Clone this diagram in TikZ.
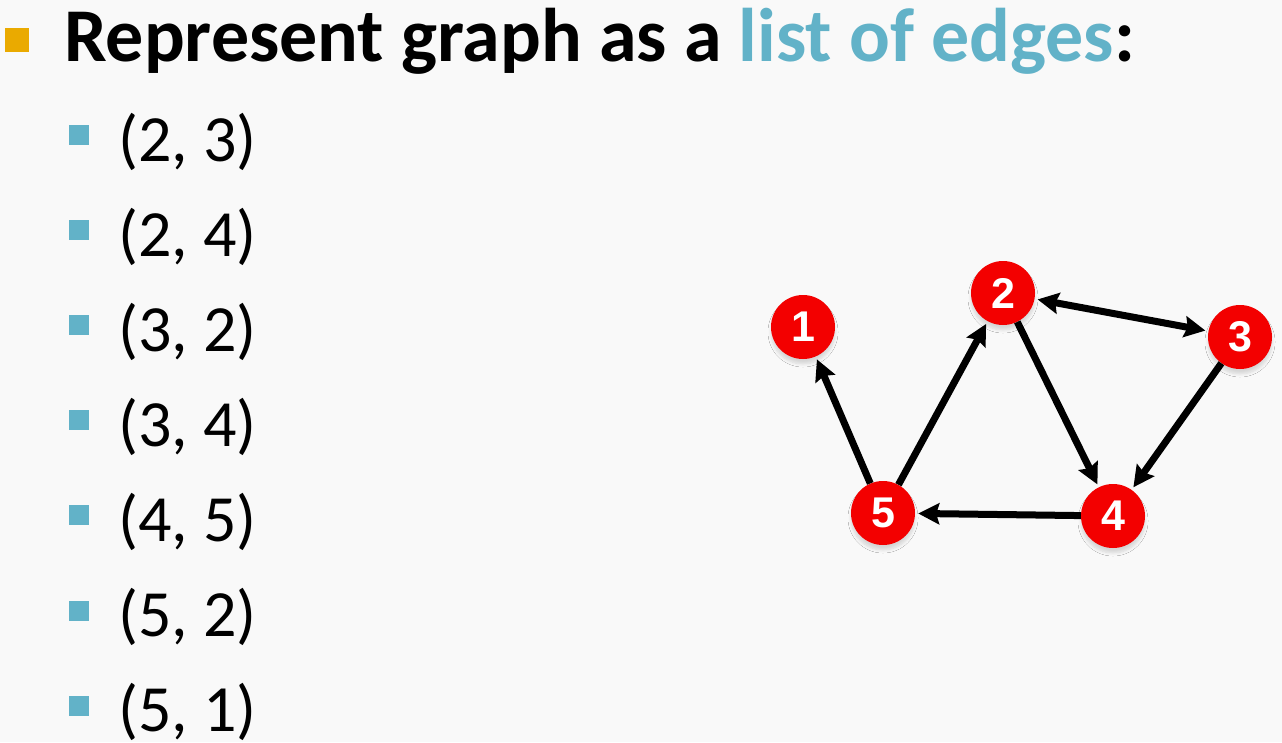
\documentclass[tikz,border=0pt]{standalone}
\usepackage{fontspec}
\setmainfont{Carlito}
\newfontfamily\nodefont{Liberation Sans}
\usetikzlibrary{arrows.meta,shadows.blur}
\definecolor{bgc}{RGB}{249,249,249}
\definecolor{orangeb}{RGB}{234,170,0}
\definecolor{blueb}{RGB}{98,178,200}
\definecolor{nodered}{RGB}{243,0,0}
\tikzset{
  vert/.style={circle, fill=nodered, minimum size=64pt, inner sep=0pt,
    text=white, font=\nodefont\bfseries\fontsize{43}{43}\selectfont,
    blur shadow={shadow xshift=0pt, shadow yshift=-5pt, shadow blur radius=3pt, shadow blur steps=6, shadow opacity=14}},
  conn/.style={draw=black, line width=7pt, -{Stealth[length=21pt,width=21pt,inset=3pt]}, shorten >=3pt},
  bothconn/.style={draw=black, line width=7pt, {Stealth[length=21pt,width=21pt,inset=3pt]}-{Stealth[length=21pt,width=21pt,inset=3pt]}, shorten >=3pt, shorten <=3pt},
  titletext/.style={anchor=base west, inner sep=0pt, font=\bfseries\fontsize{76}{90}\selectfont},
  itemtext/.style={anchor=base west, inner sep=0pt, font=\fontsize{66}{80}\selectfont},
  bluebullet/.style={fill=blueb, draw=none},
  orangebullet/.style={fill=orangeb, draw=none}
}
\begin{document}
\begin{tikzpicture}[x=1pt,y=-1pt]
\fill[bgc] (0,0) rectangle (1282,742);
\useasboundingbox (0,0) rectangle (1282,742);
% title
\fill[orangebullet] (5,28) rectangle (29,52);
\node[titletext] (title) at (64,61) {Represent graph as a \textcolor{blueb}{list of edges}:};
% items
\foreach \i/\t [count=\k from 0] in {a/{(2, 3)},b/{(2, 4)},c/{(3, 2)},d/{(3, 4)},e/{(4, 5)},f/{(5, 2)},g/{(5, 1)}} {
  \pgfmathsetmacro{\yb}{161+95.1*\k}
  \fill[bluebullet] (69,\yb-36) rectangle (89,\yb-16);
  \node[itemtext] (item\i) at (118,\yb) {\t};
}
% graph
\node[vert] (n1) at (803,327) {1};
\node[vert] (n2) at (1003,293) {2};
\node[vert] (n3) at (1240,337) {3};
\node[vert] (n4) at (1113,516) {4};
\node[vert] (n5) at (883,513) {5};
\draw[conn] (n5) -- (n1);
\draw[conn] (n5) -- (n2);
\draw[conn] (n2) -- (n4);
\draw[conn] (n3) -- (n4);
\draw[conn] (n4) -- (n5);
\draw[bothconn] (n2) -- (n3);
\end{tikzpicture}
\end{document}
